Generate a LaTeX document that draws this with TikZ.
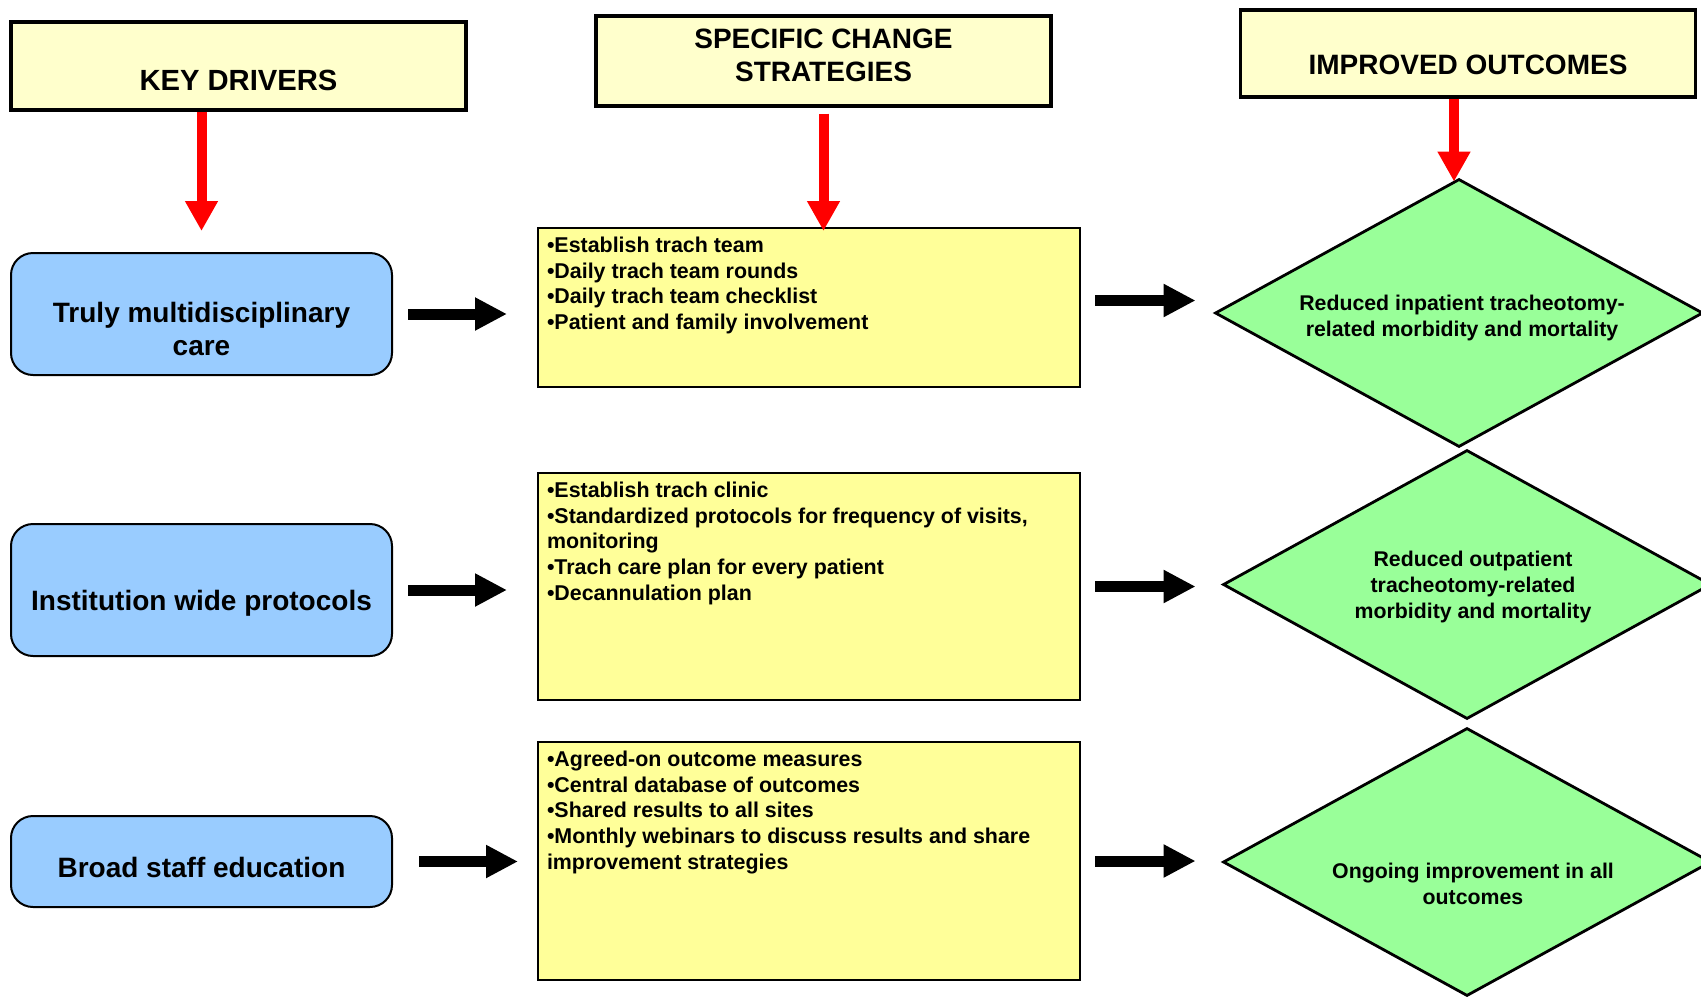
\documentclass[tikz,border=0pt]{standalone}
\usepackage{fontspec}
\setmainfont{Liberation Sans}
\usetikzlibrary{shapes.geometric,arrows.meta}
\definecolor{hdrfill}{HTML}{FFFFCC}
\definecolor{drvblue}{HTML}{99CCFF}
\definecolor{stratyel}{HTML}{FFFF99}
\definecolor{outgreen}{HTML}{99FF99}
\newcommand{\stratlist}[2]{\parbox[c][#1][t]{262pt}{\raggedright #2}}

\begin{document}
\begin{tikzpicture}[x=0.5pt,y=-0.5pt]
    \tikzstyle{header}=[rectangle,draw,line width=1.7pt,fill=hdrfill,minimum width=227.5pt]
    \tikzstyle{htext}=[font=\fontsize{14}{16.5}\selectfont\bfseries,align=center]
    \tikzstyle{driver}=[rectangle,draw,line width=1pt,rounded corners=11pt,fill=drvblue,minimum width=190.5pt]
    \tikzstyle{dtext}=[font=\fontsize{14}{16.5}\selectfont\bfseries,align=center]
    \tikzstyle{strategy}=[rectangle,draw,line width=1pt,fill=stratyel,inner sep=4.5pt,font=\fontsize{10.7}{12.85}\selectfont\bfseries]
    \tikzstyle{outcome}=[diamond,draw,line width=1.4pt,fill=outgreen,aspect=1.8,inner sep=0pt,minimum width=244pt,minimum height=134pt]
    \tikzstyle{otext}=[font=\fontsize{10.65}{13}\selectfont\bfseries,align=center]
    \tikzstyle{redarrow}=[-{Triangle[width=15.5pt,length=15pt]},red,line width=5pt]
    \tikzstyle{blkarrow}=[-{Triangle[width=15.5pt,length=16pt]},black,line width=5.5pt]

    \useasboundingbox (0,0) rectangle (1701,996);

    % column headers
    \node[header,minimum height=44pt] (hdrKey) at (238.5,66) {};
    \node[htext,font=\fontsize{14.6}{16.5}\selectfont\bfseries] (keyTxt) at ([yshift=-7pt]hdrKey.center) {KEY DRIVERS};
    \node[header,minimum height=45pt] (hdrChg) at (823.5,61) {};
    \node[htext] (chgTxt) at ([yshift=2.75pt]hdrChg.center) {SPECIFIC CHANGE\\STRATEGIES};
    \node[header,minimum height=43.5pt] (hdrOut) at (1468,53.5) {};
    \node[htext] (outTxt) at ([yshift=-5.75pt]hdrOut.center) {IMPROVED OUTCOMES};

    % key drivers
    \node[driver,minimum height=61pt] (drv1) at (201.5,314) {};
    \node[dtext] (drv1Txt) at ([yshift=-7.25pt]drv1.center) {Truly multidisciplinary\\care};
    \node[driver,minimum height=66pt] (drv2) at (201.5,590) {};
    \node[dtext] (drv2Txt) at ([yshift=-6.5pt]drv2.center) {Institution wide protocols};
    \node[driver,minimum height=45.5pt] (drv3) at (201.5,861.5) {};
    \node[dtext] (drv3Txt) at ([yshift=-2.75pt]drv3.center) {Broad staff education};

    % change strategies
    \node[strategy] (yel1) at (809,307.5) {\stratlist{70.5pt}{%
        •Establish trach team\\
        •Daily trach team rounds\\
        •Daily trach team checklist\\
        •Patient and family involvement}};
    \node[strategy] (yel2) at (809,586.5) {\stratlist{104.5pt}{%
        •Establish trach clinic\\
        •Standardized protocols for frequency of visits,\\
        monitoring\\
        •Trach care plan for every patient\\
        •Decannulation plan}};
    \node[strategy] (yel3) at (809,861) {\stratlist{110pt}{%
        •Agreed-on outcome measures\\
        •Central database of outcomes\\
        •Shared results to all sites\\
        •Monthly webinars to discuss results and share\\
        improvement strategies}};

    % outcomes
    \node[outcome] (dia1) at (1459,313) {};
    \node[otext] (dia1Txt) at ([xshift=1.5pt,yshift=-2.5pt]dia1.center) {Reduced inpatient tracheotomy-\\related morbidity and mortality};
    \node[outcome,minimum height=134.5pt] (dia2) at (1467,584.5) {};
    \node[otext] (dia2Txt) at ([xshift=3pt,yshift=-1pt]dia2.center) {Reduced outpatient\\tracheotomy-related\\morbidity and mortality};
    \node[outcome] (dia3) at (1467,862) {};
    \node[otext] (dia3Txt) at ([xshift=3pt,yshift=-11pt]dia3.center) {Ongoing improvement in all\\outcomes};

    % header arrows
    \draw[redarrow,shorten >=10.5pt] (drv1.north |- hdrKey.south) -- (drv1.north);
    \draw[redarrow,shorten <=3pt,shorten >=-2pt] (hdrChg.south) -- (hdrChg.south |- yel1.north);
    \coordinate (outTop) at ([xshift=-2.5pt]dia1.north);
    \draw[redarrow,shorten >=-2pt] (outTop |- hdrOut.south) -- (outTop);

    % row arrows
    \draw[blkarrow,shorten <=7.5pt,shorten >=15pt] (drv1.east) -- (drv1.east -| yel1.west);
    \draw[blkarrow,shorten <=7.5pt,shorten >=15pt] (drv2.east) -- (drv2.east -| yel2.west);
    \draw[blkarrow,shorten <=13pt,shorten >=9.5pt] (drv3.east) -- (drv3.east -| yel3.west);
    \coordinate (out1) at ([yshift=3.5pt]yel1.east);
    \draw[blkarrow,shorten <=7pt,shorten >=9pt] (out1) -- (out1 -| dia1.west);
    \draw[blkarrow,shorten <=7pt,shorten >=13pt] (yel2.east) -- (yel2.east -| dia2.west);
    \draw[blkarrow,shorten <=7pt,shorten >=13pt] (yel3.east) -- (yel3.east -| dia3.west);
\end{tikzpicture}
\end{document}
